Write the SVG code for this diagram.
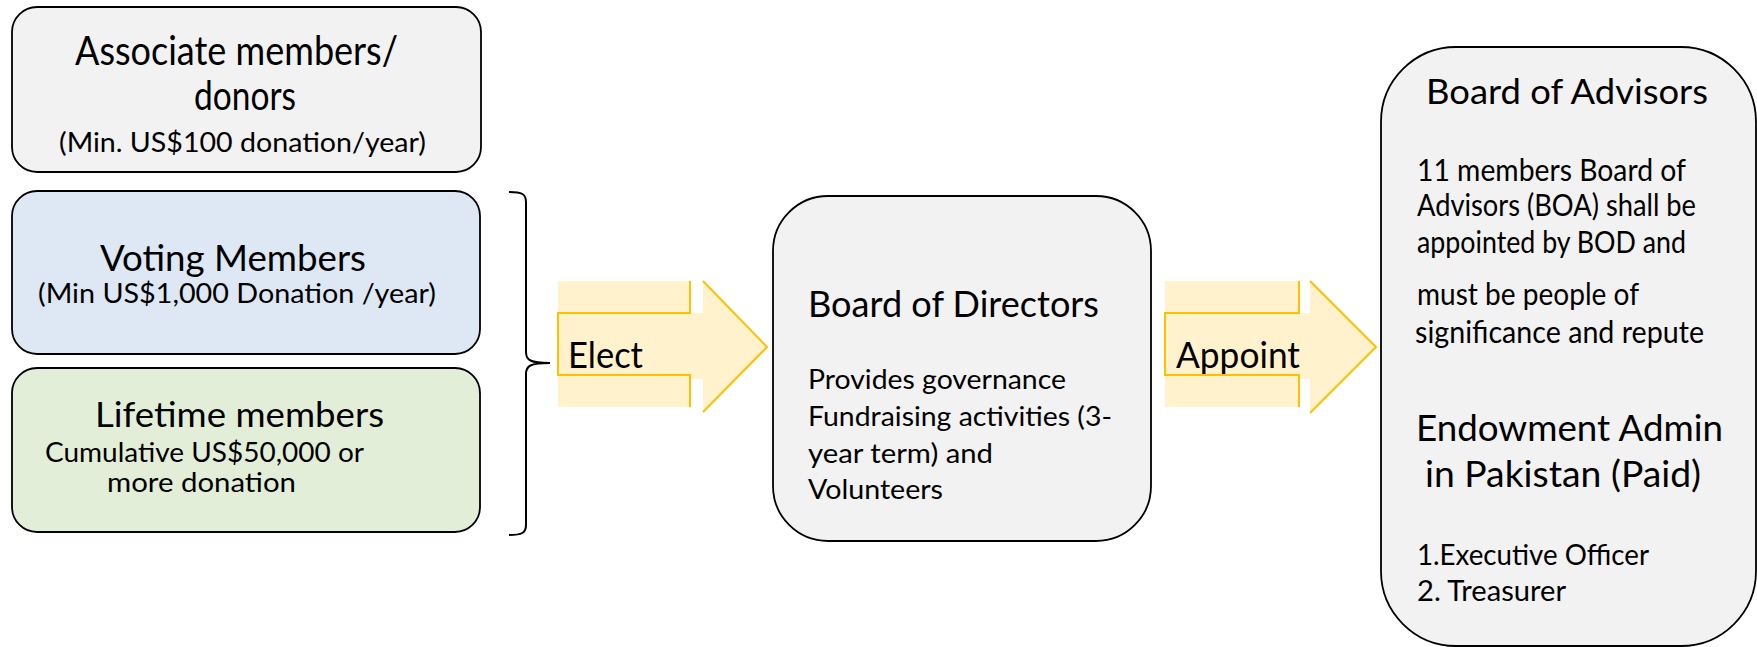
<svg xmlns="http://www.w3.org/2000/svg" width="1757" height="647" viewBox="0 0 1757 647">
<style>
text{font-family:Lato,"Liberation Sans",sans-serif;fill:#000;}
.box{stroke:#000;stroke-width:1.8;}
.grey{fill:#f2f2f2;}
.blue{fill:#dde8f4;}
.green{fill:#e3eed9;}
.arrowFill{fill:#fff2cc;stroke:none;}
.arrowLine{fill:none;stroke:#ffc000;stroke-width:2;}
.brace{fill:none;stroke:#000;stroke-width:2;}
</style>
<rect x="0" y="0" width="1757" height="647" fill="#fff"/>
<g id="associate">
<rect class="box grey" x="12" y="7" width="469" height="165" rx="25"/>
<text x="75" y="65" font-size="41" textLength="323" lengthAdjust="spacingAndGlyphs">Associate members/</text>
<text x="194" y="110" font-size="41" textLength="102" lengthAdjust="spacingAndGlyphs">donors</text>
<text x="59" y="152" font-size="27" textLength="367" lengthAdjust="spacingAndGlyphs">(Min. US$100 donation/year)</text>
</g>
<g id="voting">
<rect class="box blue" x="12" y="191" width="468" height="163" rx="25"/>
<text x="100" y="271" font-size="36" textLength="266" lengthAdjust="spacingAndGlyphs">Voting Members</text>
<text x="38" y="303" font-size="26" textLength="398" lengthAdjust="spacingAndGlyphs">(Min US$1,000 Donation /year)</text>
</g>
<g id="lifetime">
<rect class="box green" x="12" y="368" width="468" height="164" rx="25"/>
<text x="95" y="427" font-size="34" textLength="289" lengthAdjust="spacingAndGlyphs">Lifetime members</text>
<text x="45" y="462" font-size="27" textLength="319" lengthAdjust="spacingAndGlyphs">Cumulative US$50,000 or</text>
<text x="107" y="492" font-size="27" textLength="189" lengthAdjust="spacingAndGlyphs">more donation</text>
</g>
<g id="bod">
<rect class="box grey" x="773" y="196" width="378" height="345" rx="55"/>
<text x="808" y="317" font-size="37.5" textLength="291" lengthAdjust="spacingAndGlyphs">Board of Directors</text>
<text x="808" y="389" font-size="27" textLength="258" lengthAdjust="spacingAndGlyphs">Provides governance</text>
<text x="808" y="426" font-size="27" textLength="304" lengthAdjust="spacingAndGlyphs">Fundraising activities (3-</text>
<text x="808" y="463" font-size="27" textLength="185" lengthAdjust="spacingAndGlyphs">year term) and</text>
<text x="808" y="499" font-size="27" textLength="135" lengthAdjust="spacingAndGlyphs">Volunteers</text>
</g>
<g id="boa">
<rect class="box grey" x="1381" y="47" width="375" height="599" rx="75"/>
<text x="1426" y="104" font-size="35" textLength="282" lengthAdjust="spacingAndGlyphs">Board of Advisors</text>
<text x="1417" y="181" font-size="30" textLength="269" lengthAdjust="spacingAndGlyphs">11 members Board of</text>
<text x="1417" y="216" font-size="30" textLength="279" lengthAdjust="spacingAndGlyphs">Advisors (BOA) shall be</text>
<text x="1417" y="253" font-size="30" textLength="269" lengthAdjust="spacingAndGlyphs">appointed by BOD and</text>
<text x="1417" y="305" font-size="30" textLength="222" lengthAdjust="spacingAndGlyphs">must be people of</text>
<text x="1415" y="343" font-size="30" textLength="289" lengthAdjust="spacingAndGlyphs">significance and repute</text>
<text x="1416" y="441" font-size="36" textLength="307" lengthAdjust="spacingAndGlyphs">Endowment Admin</text>
<text x="1425" y="487" font-size="36" textLength="276" lengthAdjust="spacingAndGlyphs">in Pakistan (Paid)</text>
<text x="1417" y="565" font-size="28" textLength="232" lengthAdjust="spacingAndGlyphs">1.Executive Officer</text>
<text x="1417" y="601" font-size="28" textLength="149" lengthAdjust="spacingAndGlyphs">2. Treasurer</text>
</g>
<g id="connectors">
<path class="brace" d="M509,192 C522,192 526,194 526,202 V352 C526,360 530,363 550,363 C530,363 526,366 526,374 V525 C526,533 522,535 509,535"/>
<g id="elect-arrow">
<path class="arrowFill" d="M558,281 H690 V313 H703 V281 L767,347 L703,412 V379 H690 V407 H558 Z"/>
<path class="arrowLine" d="M690,281 V313 H558 V375 H690 V407 M703,281 L767,347 L703,412"/>
<text x="568" y="368" font-size="36" textLength="75" lengthAdjust="spacingAndGlyphs">Elect</text>
</g>
<g id="appoint-arrow">
<path class="arrowFill" d="M1165,281 H1299 V313 H1310 V281 L1376,347 L1310,413 V379 H1299 V407 H1165 Z"/>
<path class="arrowLine" d="M1299,281 V313 H1165 V375 H1299 V407 M1310,281 L1376,347 L1310,413"/>
<text x="1176" y="368" font-size="36" textLength="124" lengthAdjust="spacingAndGlyphs">Appoint</text>
</g>
</g>
</svg>
